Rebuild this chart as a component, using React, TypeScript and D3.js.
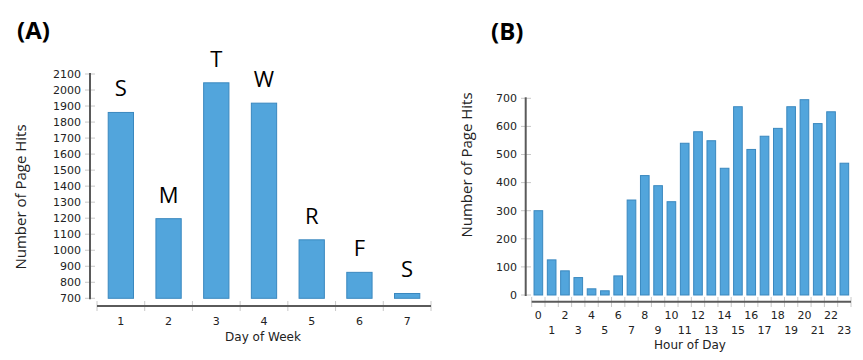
import React from "react";
import * as d3 from "d3";

const days = ["1", "2", "3", "4", "5", "6", "7"];
const dayLetters = ["S", "M", "T", "W", "R", "F", "S"];
const dayHits = [1860, 1197, 2045, 1918, 1065, 862, 730];
const dayTicks = [700, 800, 900, 1000, 1100, 1200, 1300, 1400, 1500, 1600, 1700, 1800, 1900, 2000, 2100];

const hours = d3.range(24).map(String);
const hourHits = [300, 125, 86, 62, 22, 15, 68, 338, 425, 389, 332, 540, 581, 549, 451, 670, 518, 565, 593, 670, 695, 610, 652, 469];
const hourTicks = [0, 100, 200, 300, 400, 500, 600, 700];

const FILL = "#52a5dc";
const STROKE = "#3a88bf";
const AXIS = "#5a5a5a";
const TICK = "#c8c8c8";
const TXT = "#222";
const TICKFONT = "DejaVu Sans, Verdana, sans-serif";
const LABFONT = "Open Sans, Calibri, sans-serif";

export default function App() {
  // Chart A
  const xA = d3.scaleBand().domain(days).range([97, 431]).paddingInner(0.47).paddingOuter(0.235);
  const yA = d3.scaleLinear().domain([700, 2100]).range([298.3, 74]);
  // Chart B
  const xB = d3.scaleBand().domain(hours).range([531.7, 851]).paddingInner(0.35).paddingOuter(0.175);
  const yB = d3.scaleLinear().domain([0, 700]).range([295, 98.3]);
  const stepA = xA.step();
  const stepB = xB.step();

  return (
    <svg width={863} height={360} style={{ position: "absolute", left: 0, top: 0, background: "#fff" }}>
      <rect width={863} height={360} fill="#fff" />
      {/* Panel A */}
      <text x={17} y={39} fontFamily={LABFONT} fontWeight="bold" fontSize={24} fill="#000">(A)</text>
      <text transform={`translate(26,197) rotate(-90)`} textAnchor="middle" fontFamily={LABFONT} fontSize={15} fill={TXT}>Number of Page Hits</text>
      {dayTicks.map((t) => (
        <g key={"ya" + t}>
          <line x1={85} x2={95} y1={yA(t)} y2={yA(t)} stroke={TICK} strokeWidth={1} />
          <text x={81} y={yA(t)} dy="0.35em" textAnchor="end" fontFamily={TICKFONT} fontSize={11} fill={TXT}>{t}</text>
        </g>
      ))}
      <line x1={90} x2={90} y1={yA(2100) - 1} y2={yA(700) + 1} stroke={AXIS} strokeWidth={2} />
      {days.map((d, i) => (
        <g key={"ba" + d}>
          <rect x={xA(d)} y={yA(dayHits[i])} width={xA.bandwidth()} height={yA(700) - yA(dayHits[i])} fill={FILL} stroke={STROKE} strokeWidth={1} />
          <text x={xA(d)! + xA.bandwidth() / 2} y={yA(dayHits[i]) - 16} textAnchor="middle" fontFamily={LABFONT} fontSize={22} fill="#000">{dayLetters[i]}</text>
          <text x={xA(d)! + xA.bandwidth() / 2} y={321} dy="0.35em" textAnchor="middle" fontFamily={TICKFONT} fontSize={11} fill={TXT}>{d}</text>
        </g>
      ))}
      {d3.range(days.length + 1).map((i) => (
        <line key={"xta" + i} x1={97 + i * stepA} x2={97 + i * stepA} y1={301} y2={311} stroke={TICK} strokeWidth={1} />
      ))}
      <line x1={97} x2={431} y1={306} y2={306} stroke={AXIS} strokeWidth={2} />
      <text x={263} y={337} dy="0.35em" textAnchor="middle" fontFamily={TICKFONT} fontSize={12} fill={TXT}>Day of Week</text>

      {/* Panel B */}
      <text x={491} y={40} fontFamily={LABFONT} fontWeight="bold" fontSize={24} fill="#000">(B)</text>
      <text transform={`translate(472,165) rotate(-90)`} textAnchor="middle" fontFamily={LABFONT} fontSize={15} fill={TXT}>Number of Page Hits</text>
      {hourTicks.map((t) => (
        <g key={"yb" + t}>
          <line x1={521} x2={531} y1={yB(t)} y2={yB(t)} stroke={TICK} strokeWidth={1} />
          <text x={517} y={yB(t)} dy="0.35em" textAnchor="end" fontFamily={TICKFONT} fontSize={11} fill={TXT}>{t}</text>
        </g>
      ))}
      <line x1={525.7} x2={525.7} y1={yB(700) - 1} y2={yB(0) + 1} stroke={AXIS} strokeWidth={2} />
      {hours.map((h, i) => (
        <g key={"bb" + h}>
          <rect x={xB(h)} y={yB(hourHits[i])} width={xB.bandwidth()} height={yB(0) - yB(hourHits[i])} fill={FILL} stroke={STROKE} strokeWidth={1} />
          <text x={xB(h)! + xB.bandwidth() / 2} y={i % 2 === 0 ? 315 : 330} dy="0.35em" textAnchor="middle" fontFamily={TICKFONT} fontSize={11} fill={TXT}>{h}</text>
        </g>
      ))}
      {d3.range(hours.length + 1).map((i) => (
        <line key={"xtb" + i} x1={531.7 + i * stepB} x2={531.7 + i * stepB} y1={297} y2={307} stroke={TICK} strokeWidth={1} />
      ))}
      <line x1={531.7} x2={851} y1={301.7} y2={301.7} stroke={AXIS} strokeWidth={2} />
      <text x={690} y={345} dy="0.35em" textAnchor="middle" fontFamily={TICKFONT} fontSize={12} fill={TXT}>Hour of Day</text>
    </svg>
  );
}
